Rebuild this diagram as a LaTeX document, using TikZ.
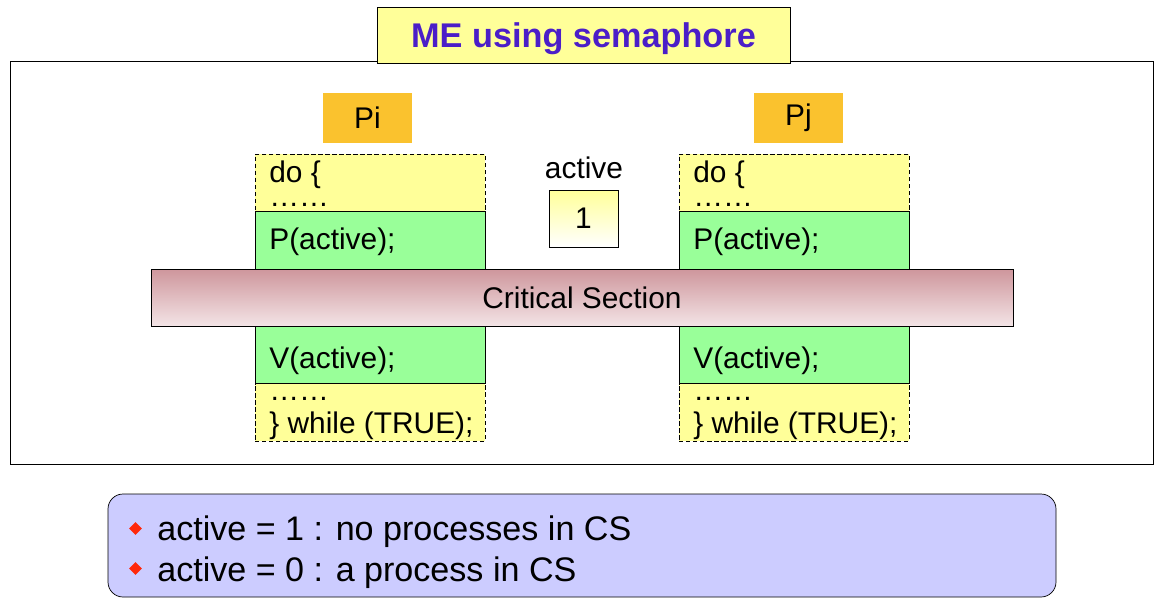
\documentclass[tikz,border=0pt]{standalone}
\usepackage{fontspec}
\setmainfont{Liberation Sans}
\usetikzlibrary{
  positioning,
  shapes.geometric
}

\definecolor{titleBlue}{RGB}{75,30,200}
\definecolor{noteYellow}{RGB}{255,255,153}
\definecolor{procOrange}{RGB}{250,194,46}
\definecolor{opGreen}{RGB}{153,255,153}
\definecolor{csTop}{RGB}{206,150,156}
\definecolor{csBottom}{RGB}{243,228,230}
\definecolor{noteLilac}{RGB}{204,204,255}
\definecolor{bulletRed}{RGB}{255,40,10}

\begin{document}
\begin{tikzpicture}[
    font=\fontsize{17}{20}\selectfont,
    titlebox/.style={
      draw=black,
      fill=noteYellow,
      minimum width=8.26cm,
      minimum height=1.12cm,
      text depth=0pt,
      font=\fontsize{19.5}{22}\selectfont\bfseries,
      text=titleBlue
    },
    proc/.style={
      fill=procOrange,
      minimum width=1.78cm,
      minimum height=1cm
    },
    loopbox/.style={
      draw=black,
      dash pattern=on 2.5pt off 1.5pt,
      fill=noteYellow,
      minimum width=4.6cm,
      minimum height=1.15cm,
      outer sep=0pt
    },
    opbox/.style={
      draw=black,
      fill=opGreen,
      minimum width=4.6cm,
      minimum height=1.15cm,
      outer sep=0pt
    },
    code/.style={
      anchor=base west,
      inner sep=0pt
    },
    loopcode/.style={
      anchor=west,
      align=left,
      inner sep=0pt
    },
    bullet/.style={
      diamond,
      fill=bulletRed,
      inner sep=0pt,
      minimum width=0.26cm,
      minimum height=0.26cm
    },
    note/.style={
      anchor=base west,
      inner sep=0pt,
      font=\fontsize{19.4}{22}\selectfont
    }
  ]
  \newcommand{\csGap}{1.14cm}
  \useasboundingbox (0,0) rectangle (23.30,-12.04);

  % Frame and title
  \node[draw=black, minimum width=22.86cm, minimum height=8.06cm] (frame) at (11.63,-5.25) {};
  \node[titlebox] (title) at (11.67,-0.70) {ME using semaphore};

  % Process Pi
  \node[proc] (pi) at (7.35,-2.36) {Pi};
  \node[loopbox, anchor=north] (doi) at (7.40,-3.08) {};
  \node[opbox, below=0cm of doi] (waiti) {};
  \node[opbox, below=\csGap of waiti] (signali) {};
  \node[loopbox, below=0cm of signali] (endi) {};

  % Process Pj
  \node[proc] (pj) at (15.97,-2.36) {Pj};
  \node[loopbox, anchor=north] (doj) at (15.88,-3.08) {};
  \node[opbox, below=0cm of doj] (waitj) {};
  \node[opbox, below=\csGap of waitj] (signalj) {};
  \node[loopbox, below=0cm of signalj] (endj) {};

  % Critical section
  \node[draw=black, top color=csTop, bottom color=csBottom,
    minimum width=17.24cm, minimum height=\csGap] (cs) at (11.64,-5.95) {Critical Section};

  % Semaphore
  \node[anchor=base] (activelbl) at (11.68,-3.56) {active};
  \node[draw=black, top color=noteYellow, bottom color=white,
    minimum width=1.38cm, minimum height=1.14cm] (active) at (11.67,-4.37) {1};

  % Code of Pi
  \node[loopcode, font=\fontsize{17}{13.3}\selectfont] (doit) at (5.38,-3.676) {do \{\\……};
  \node[code] (waitit) at (5.38,-4.98) {P(active);};
  \node[code] (signalit) at (5.38,-7.36) {V(active);};
  \node[loopcode, font=\fontsize{17}{18.7}\selectfont] (endit) at (5.38,-8.364) {……\\\} while (TRUE);};

  % Code of Pj
  \node[loopcode, font=\fontsize{17}{13.3}\selectfont] (dojt) at (13.86,-3.676) {do \{\\……};
  \node[code] (waitjt) at (13.86,-4.98) {P(active);};
  \node[code] (signaljt) at (13.86,-7.36) {V(active);};
  \node[loopcode, font=\fontsize{17}{18.7}\selectfont] (endjt) at (13.86,-8.364) {……\\\} while (TRUE);};

  % Notes
  \node[draw=black, fill=noteLilac, rounded corners=0.3cm,
    minimum width=18.96cm, minimum height=2.06cm] (notes) at (11.64,-10.91) {};
  \node[bullet] (b1) at (2.71,-10.57) {};
  \node[note] (n1) at (3.14,-10.80) {active = 1 : no processes in CS};
  \node[bullet] (b2) at (2.71,-11.37) {};
  \node[note] (n2) at (3.14,-11.62) {active = 0 : a process in CS};
\end{tikzpicture}
\end{document}
